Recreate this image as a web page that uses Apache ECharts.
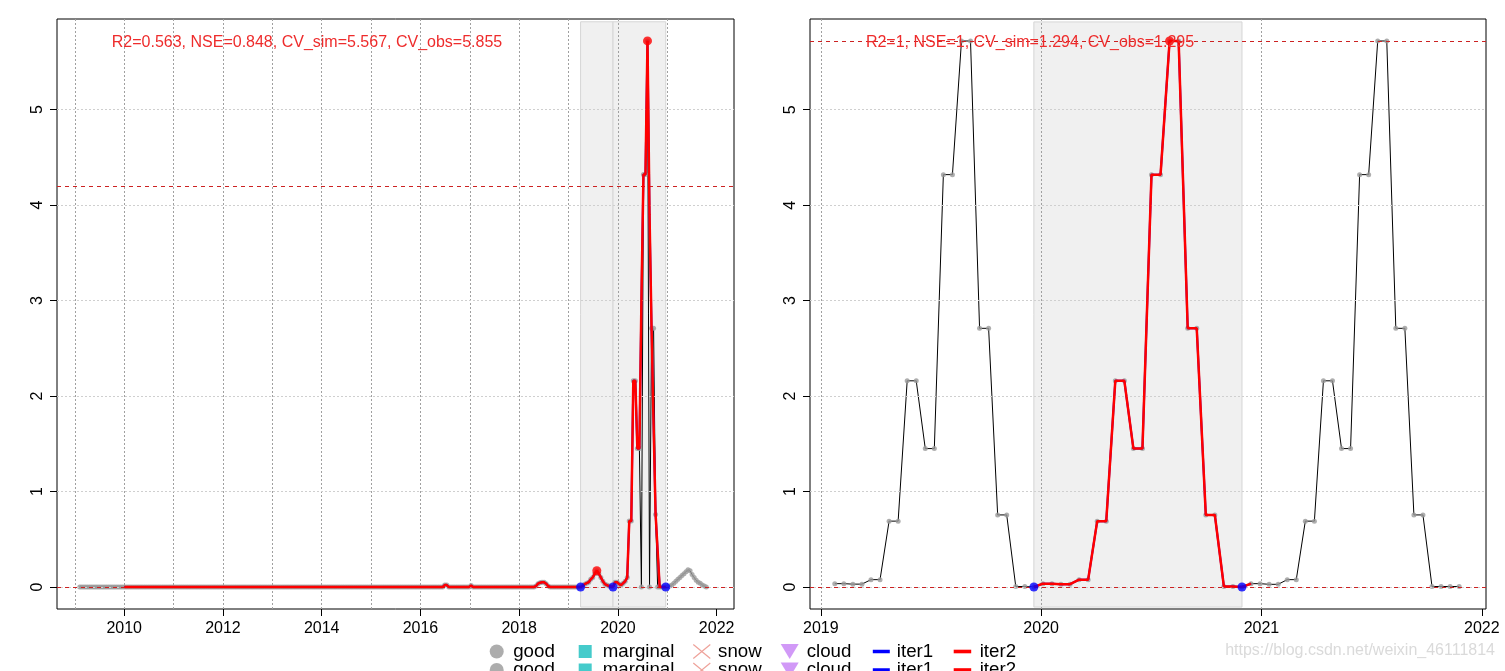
<!DOCTYPE html>
<html>
<head>
<meta charset="utf-8">
<script src="https://cdn.jsdelivr.net/npm/echarts@6/dist/echarts.min.js"></script>
<style>html,body{margin:0;padding:0;background:#fff}#c{width:1505px;height:671px}</style>
</head>
<body>
<div id="c"></div>
<script>
// ---------------- data ----------------
const leftStartYear = 2009.10;     // first observation (decimal year)
const rightStartYear = 2019.0635;  // first observation (decimal year)
const stepDays = 15;               // sampling interval of the series

// left panel: observed values (one every 15 days)
const leftObs = [
0,0,0,0,0,0,0,0,0,0,0,0,0,0,0,0,0,0,0,0,
0,0,0,0,0,0,0,0,0,0,0,0,0,0,0,0,0,0,0,0,
0,0,0,0,0,0,0,0,0,0,0,0,0,0,0,0,0,0,0,0,
0,0,0,0,0,0,0,0,0,0,0,0,0,0,0,0,0,0,0,0,
0,0,0,0,0,0,0,0,0,0,0,0,0,0,0,0,0,0,0,0,
0,0,0,0,0,0,0,0,0,0,0,0,0,0,0,0,0,0,0,0,
0,0,0,0,0,0,0,0,0,0,0,0,0,0,0,0,0,0,0,0,
0,0,0,0,0,0,0,0,0,0,0,0,0,0,0,0,0,0,0,0,
0,0,0,0,0,0,0,0,0,0,0,0,0,0,0,0,0,0,0,0,
0.02,0.02,0,0,0,0,0,0,0,0,0,0,0,0.015,0,0,0,0,0,0,
0,0,0,0,0,0,0,0,0,0,0,0,0,0,0,0,0,0,0,0,
0,0,0,0,0,0.01,0.035,0.045,0.05,0.05,0.035,0.01,0,0,0,0,0,0,0,0,
0,0,0,0,0,0,0,0,0.01,0.03,0.04,0.05,0.08,0.1,0.14,0.17,0.14,0.1,0.06,0.03,
0.02,0.01,0.005,0,0.05,0.05,0.03,0.02,0.04,0.06,0.1,0.69,0.69,2.16,2.16,1.45,1.45,0,4.32,4.32,
5.72,0,2.71,2.71,0.76,0,0,0,0,0,0,0.01,0.02,0.04,0.06,0.08,0.1,0.12,0.14,0.16,
0.18,0.17,0.13,0.1,0.07,0.05,0.04,0.02,0.01,0
];
// left panel: fitted curve (iter2), starting at observation index leftFitStart
const leftFitStart = 22;
const leftFit = [
0,0,0,0,0,0,0,0,0,0,0,0,0,0,0,0,0,0,
0,0,0,0,0,0,0,0,0,0,0,0,0,0,0,0,0,0,0,0,
0,0,0,0,0,0,0,0,0,0,0,0,0,0,0,0,0,0,0,0,
0,0,0,0,0,0,0,0,0,0,0,0,0,0,0,0,0,0,0,0,
0,0,0,0,0,0,0,0,0,0,0,0,0,0,0,0,0,0,0,0,
0,0,0,0,0,0,0,0,0,0,0,0,0,0,0,0,0,0,0,0,
0,0,0,0,0,0,0,0,0,0,0,0,0,0,0,0,0,0,0,0,
0,0,0,0,0,0,0,0,0,0,0,0,0,0,0,0,0,0,0,0,
0.02,0.02,0,0,0,0,0,0,0,0,0,0,0,0.015,0,0,0,0,0,0,
0,0,0,0,0,0,0,0,0,0,0,0,0,0,0,0,0,0,0,0,
0,0,0,0,0,0.01,0.035,0.045,0.05,0.05,0.035,0.01,0,0,0,0,0,0,0,0,
0,0,0,0,0,0,0,0,0.01,0.03,0.04,0.05,0.08,0.1,0.14,0.17,0.14,0.1,0.06,0.03,
0.02,0.01,0.005,0,0.05,0.05,0.03,0.02,0.04,0.06,0.1,0.69,0.69,2.16,2.16,1.45,1.45,3.0,4.32,4.32,
5.72,3.9,2.71,1.7,0.76,0.38,0,0,0,0
];
const leftSeasonIdx = [247, 263, 289];   // season boundaries (blue points)
const leftPeakIdx = [255, 280];          // season peaks (red points)

// right panel
const rightObs = [
0.035,0.035,0.03,0.03,0.077,0.077,0.69,0.69,2.16,2.16,1.45,1.45,4.32,4.32,5.72,5.72,2.71,2.71,0.755,0.755,0.005,0.005,0,
0.035,0.035,0.03,0.03,0.077,0.077,0.69,0.69,2.16,2.16,1.45,1.45,4.32,4.32,5.72,5.72,2.71,2.71,0.755,0.755,0.005,0.005,0,
0.035,0.035,0.028,0.028,0.077,0.077,0.69,0.69,2.16,2.16,1.45,1.45,4.32,4.32,5.72,5.72,2.71,2.71,0.755,0.755,0.005,0.005,0.005,0.005
];
const rightFitStart = 22;
const rightFit = [0,0.035,0.035,0.03,0.03,0.077,0.077,0.69,0.69,2.16,2.16,1.45,1.45,4.32,4.32,5.72,5.72,2.71,2.71,0.755,0.755,0.005,0.005,0,0.035];
const rightSeasonIdx = [22, 45];
const rightPeakIdx = [37];

const leftXTicks = [2010, 2012, 2014, 2016, 2018, 2020, 2022];
const rightXTicks = [2019, 2020, 2021, 2022];
const yTicks = [0, 1, 2, 3, 4, 5];
const leftYearGrid = [2009, 2010, 2011, 2012, 2013, 2014, 2015, 2016, 2017, 2018, 2019, 2020, 2021];
const rightYearGrid = [2019, 2020, 2021];
const leftRefLines = [0, 4.2];
const rightRefLines = [0, 5.72];
const leftStats = 'R2=0.563, NSE=0.848, CV_sim=5.567, CV_obs=5.855';
const rightStats = 'R2=1, NSE=1, CV_sim=1.294, CV_obs=1.295';
const legendNames = ['good', 'marginal', 'snow', 'cloud', 'iter1', 'iter2'];
const watermark = 'https://blog.csdn.net/weixin_46111814';

// ---------------- build ----------------
const FONT = '"Liberation Sans", Arial, sans-serif';
const step = stepDays / 365.25;
const leftT = leftObs.map((_, k) => leftStartYear + k * step);
const rightT = rightObs.map((_, k) => rightStartYear + k * step);
const pairs = (t, vals, off) => vals.map((v, j) => [t[j + off], v]);

const Y_RANGE = [[-0.230424, 5.949152], [-0.230476, 5.950476]];
const RECT_LO = -0.21, RECT_HI = 5.92;

function panelSeries(p, t, obs, fit, fitStart, seasonIdx, peakIdx, yearGrid, refLines) {
  const ax = {xAxisIndex: p, yAxisIndex: p};
  const rects = [];
  for (let s = 0; s + 1 < seasonIdx.length; s++) {
    rects.push([{xAxis: t[seasonIdx[s]], yAxis: RECT_LO}, {xAxis: t[seasonIdx[s + 1]], yAxis: RECT_HI}]);
  }
  const fitData = pairs(t, fit, fitStart);
  return [
    Object.assign({type: 'scatter', data: [], z: 1, silent: true,
      markArea: {silent: true, itemStyle: {color: '#F0F0F0', borderColor: '#D6D6D6', borderWidth: 1}, data: rects}}, ax),
    Object.assign({type: 'line', data: pairs(t, obs, 0), symbol: 'none', showSymbol: false, z: 2, silent: true,
      lineStyle: {color: '#000', width: 1}}, ax),
    Object.assign({name: 'good', type: 'scatter', data: pairs(t, obs, 0), symbolSize: 5, z: 3, silent: true,
      itemStyle: {color: '#9A9A9A'}}, ax),
    Object.assign({name: 'iter1', type: 'line', data: fitData, symbol: 'none', showSymbol: false, z: 4, silent: true,
      lineStyle: {color: '#0000FF', width: 2}, itemStyle: {color: '#0000FF'}}, ax),
    Object.assign({name: 'iter2', type: 'line', data: fitData, symbol: 'none', showSymbol: false, z: 5, silent: true,
      lineStyle: {color: '#FF0000', width: 2.5}, itemStyle: {color: '#FF0000'}}, ax),
    Object.assign({type: 'scatter', data: [], z: 6, silent: true,
      markLine: {silent: true, symbol: ['none', 'none'], label: {show: false}, animation: false,
        data: yearGrid.map(v => ({xAxis: v, lineStyle: {color: '#A0A0A0', width: 1, type: [2, 2]}}))
          .concat(yTicks.map(v => ({yAxis: v, lineStyle: {color: '#CFCFCF', width: 1, type: [2, 2]}})))}}, ax),
    Object.assign({type: 'scatter', data: [], z: 7, silent: true,
      markLine: {silent: true, symbol: ['none', 'none'], label: {show: false}, animation: false,
        lineStyle: {color: '#CC2222', width: 1, type: [4, 4]},
        data: refLines.map(v => ({yAxis: v}))}}, ax),
    Object.assign({type: 'scatter', data: seasonIdx.map(k => [t[k], obs[k]]), symbolSize: 9, z: 8, silent: true,
      itemStyle: {color: '#0000FF'}}, ax),
    Object.assign({type: 'scatter', data: peakIdx.map(k => [t[k], fit[k - fitStart]]), symbolSize: 9, z: 8, silent: true,
      itemStyle: {color: '#FF0000'}}, ax)
  ];
}

const series = []
  .concat(panelSeries(0, leftT, leftObs, leftFit, leftFitStart, leftSeasonIdx, leftPeakIdx, leftYearGrid, leftRefLines))
  .concat(panelSeries(1, rightT, rightObs, rightFit, rightFitStart, rightSeasonIdx, rightPeakIdx, rightYearGrid, rightRefLines))
  .concat([
    {name: 'marginal', type: 'scatter', data: [], xAxisIndex: 0, yAxisIndex: 0, itemStyle: {color: '#17BEBE'}},
    {name: 'snow', type: 'scatter', data: [], xAxisIndex: 0, yAxisIndex: 0, itemStyle: {color: '#EA8A80'}},
    {name: 'cloud', type: 'scatter', data: [], xAxisIndex: 0, yAxisIndex: 0, itemStyle: {color: '#C57FF5'}}
  ]);

function xAxis(p, min, max, ticks) {
  return {type: 'value', gridIndex: p, min: min, max: max, z: 10,
    axisLine: {show: false, onZero: false},
    axisTick: {show: true, length: 7, customValues: ticks, lineStyle: {color: '#000', width: 1}},
    axisLabel: {customValues: ticks, margin: 12, color: '#000', fontSize: 16, fontFamily: FONT,
      formatter: v => String(v)},
    splitLine: {show: false}};
}
function yAxis(p) {
  return {type: 'value', gridIndex: p, min: Y_RANGE[p][0], max: Y_RANGE[p][1], z: 10,
    axisLine: {show: false, onZero: false},
    axisTick: {show: true, length: 7, customValues: yTicks, lineStyle: {color: '#000', width: 1}},
    axisLabel: {customValues: yTicks, rotate: 90, margin: 11, color: '#000', fontSize: 16, fontFamily: FONT,
      formatter: v => String(v)},
    splitLine: {show: false}};
}

const legendLayout = [
  {left: 489.7, w: 14, h: 14, pl: 4.5, icon: 'circle', style: {color: '#999999'}},
  {left: 578.7, w: 13, h: 13, pl: 6, icon: 'rect', style: {color: '#17BEBE'}},
  {left: 692.7, w: 17, h: 14, pl: 2.8, icon: 'path://M0,0L17,14M17,0L0,14',
    style: {color: 'rgba(0,0,0,0)', borderColor: '#EA8A80', borderWidth: 1.2}},
  {left: 780.7, w: 18, h: 15, pl: 3, icon: 'path://M0,0L18,0L9,15Z', style: {color: '#C57FF5'}},
  {left: 872.8, w: 17, h: 14, pl: 2, icon: 'path://M0,0H17V3.5H0Z', style: {color: '#0000FF'}},
  {left: 953.7, w: 17.5, h: 14, pl: 3.5, icon: 'path://M0,0H17V3.5H0Z', style: {color: '#FF0000'}}
];
const legendRowsTop = [642, 660.5];
const legends = [];
legendRowsTop.forEach(top => {
  legendNames.forEach((name, i) => {
    const L = legendLayout[i];
    legends.push({show: true, left: L.left, top: top, padding: 0, itemGap: 0, selectedMode: false,
      itemWidth: L.w, itemHeight: L.h,
      textStyle: {fontSize: 18.7, fontFamily: FONT, color: '#000', padding: [0, 0, 0, L.pl]},
      data: [{name: name, icon: L.icon, itemStyle: L.style}]});
  });
});

const option = {
  animation: false,
  backgroundColor: '#fff',
  grid: [
    {left: 57, top: 19, width: 677, height: 590, show: true, borderColor: '#000', borderWidth: 1, backgroundColor: 'transparent'},
    {left: 810, top: 19, width: 676, height: 590, show: true, borderColor: '#000', borderWidth: 1, backgroundColor: 'transparent'}
  ],
  xAxis: [xAxis(0, 2008.639, 2022.351, leftXTicks), xAxis(1, 2018.951, 2022.019, rightXTicks)],
  yAxis: [yAxis(0), yAxis(1)],
  legend: legends,
  series: series,
  graphic: [
    {type: 'text', x: 307, y: 43, z: 100, silent: true,
      style: {text: leftStats, fill: '#EE2C2C', fontSize: 16, fontFamily: FONT, align: 'center', verticalAlign: 'middle'}},
    {type: 'text', x: 1030, y: 43, z: 100, silent: true,
      style: {text: rightStats, fill: '#EE2C2C', fontSize: 16, fontFamily: FONT, align: 'center', verticalAlign: 'middle'}},
    {type: 'text', x: 1495, y: 651, z: 100, silent: true,
      style: {text: watermark, fill: '#DADADA', fontSize: 16, fontFamily: FONT, align: 'right', verticalAlign: 'middle'}}
  ]
};

const chart = echarts.init(document.getElementById('c'), null, {renderer: 'canvas', width: 1505, height: 671});
chart.setOption(option);
</script>
</body>
</html>
